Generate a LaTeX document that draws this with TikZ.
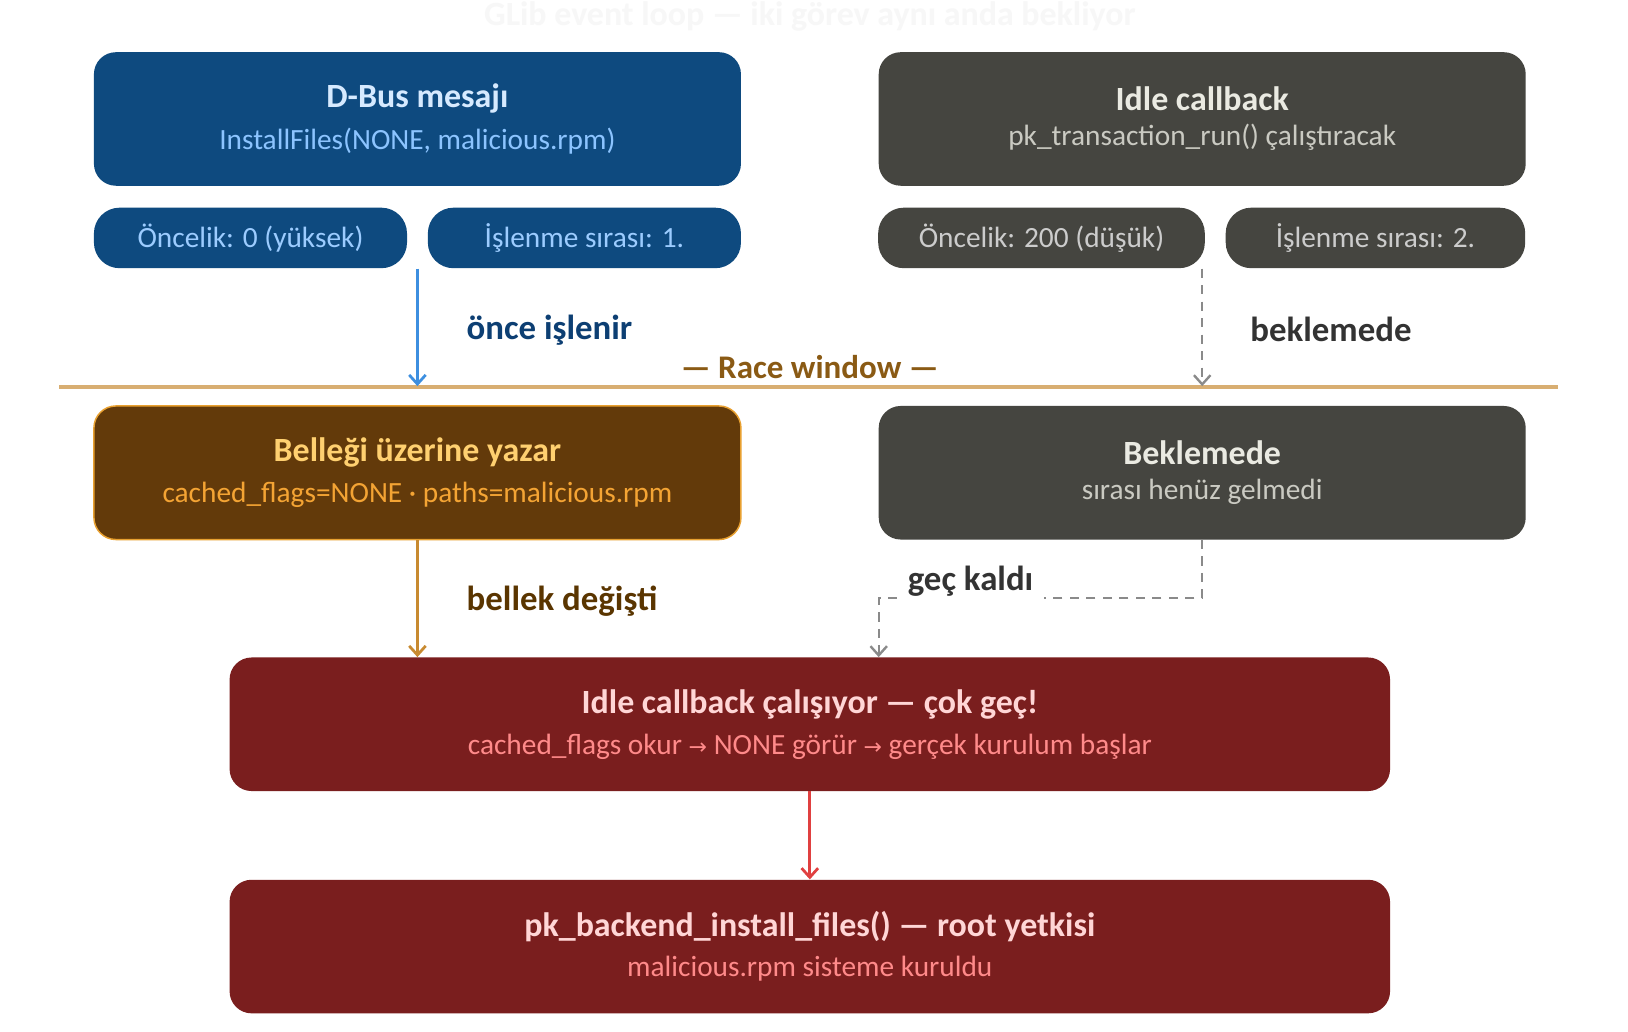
\documentclass[tikz,border=0pt]{standalone}
\usepackage{fontspec}
\setmainfont{Carlito}
\newfontfamily\symfont{DejaVu Sans}
\usepackage{xcolor}
\usetikzlibrary{arrows.meta}
\definecolor{dbusblue}{HTML}{0E4A7F}
\definecolor{idlegray}{HTML}{454540}
\definecolor{membrown}{HTML}{633A0A}
\definecolor{rootred}{HTML}{7A1E1E}
\definecolor{racetan}{HTML}{D8AE72}
\definecolor{racetext}{HTML}{8A5A14}
\definecolor{pilltext}{HTML}{9CCCFF}
\definecolor{grayline}{HTML}{8A8A8A}
\definecolor{bluearrow}{HTML}{3D8FE0}
\definecolor{bluelbl}{HTML}{0D3F73}
\definecolor{orangearrow}{HTML}{C88A30}
\definecolor{brownlbl}{HTML}{5A3500}
\definecolor{memedge}{HTML}{E8A030}
\definecolor{redarrow}{HTML}{E04040}
\newcommand{\rarr}{{\symfont\fontsize{12}{14}\selectfont →}}

\begin{document}
\begin{tikzpicture}[x=0.02cm,y=-0.02cm]
\tikzstyle{box} = [rounded corners=12pt,minimum height=128*0.02cm,align=center,inner sep=0pt];
\tikzstyle{pill} = [rounded corners=14pt,minimum height=58*0.02cm,inner sep=0pt,font=\fontsize{16}{19}\selectfont];
\tikzstyle{lbl} = [font=\fontsize{19}{22}\selectfont\bfseries,anchor=west];
\tikzstyle{arr} = [line width=1.5pt,-{Straight Barb[length=5pt,width=9pt]}];
\tikzstyle{darr} = [line width=1.3pt,dash pattern=on 5pt off 4pt,draw=grayline,-{Straight Barb[length=5pt,width=9pt]}];
\useasboundingbox[fill=white] (0,0) rectangle (1560,988);
\node[text=black!3,font=\fontsize{18.5}{22}\selectfont\bfseries] (title) at (776,16) {GLib event loop — iki görev aynı anda bekliyor};

% top row
\node[box,fill=dbusblue,minimum width=620*0.02cm] (dbus) at (400,114)
  {\textcolor[HTML]{D6EAFF}{\fontsize{18.5}{22}\selectfont\bfseries D-Bus mesajı}\\[7pt]\textcolor[HTML]{8CC4FF}{\fontsize{16}{19}\selectfont InstallFiles(NONE, malicious.rpm)}};
\node[box,fill=idlegray,minimum width=620*0.02cm] (idle) at (1152,114)
  {\textcolor[HTML]{EAEAE2}{\fontsize{18.5}{22}\selectfont\bfseries Idle callback}\\[7pt]\textcolor[HTML]{CACAC2}{\fontsize{16}{19}\selectfont pk\_transaction\_run() çalıştıracak}};
\node[pill,fill=dbusblue,minimum width=300*0.02cm,text=pilltext] (prio1) at (240,228) {Öncelik: 0 (yüksek)};
\node[pill,fill=dbusblue,minimum width=300*0.02cm,text=pilltext] (ord1) at (560,228) {İşlenme sırası: 1.};
\node[pill,fill=idlegray,minimum width=313*0.02cm,text=black!20] (prio2) at (998,228) {Öncelik: 200 (düşük)};
\node[pill,fill=idlegray,minimum width=287*0.02cm,text=black!20] (ord2) at (1318,228) {İşlenme sırası: 2.};

% race window
\coordinate (rl) at (57,371);
\coordinate (rr) at (1493,371);
\draw[racetan,line width=2pt] (rl) -- (rr);
\node[text=racetext,font=\fontsize{18}{21}\selectfont\bfseries] (race) at (776,352) {— Race window —};
\coordinate (a1) at (400,370);
\coordinate (a2) at (1152,370);
\draw[arr,draw=bluearrow] (prio1.south -| a1) -- (a1);
\draw[darr] (prio2.south -| a2) -- (a2);
\node[lbl,text=bluelbl] (l1) at (441,316) {önce işlenir};
\node[lbl,text=black!80] (l2) at (1192,316) {beklemede};

% middle row
\node[box,fill=membrown,draw=memedge,line width=0.8pt,minimum width=620*0.02cm] (mem) at (400,453)
  {\textcolor[HTML]{FFD070}{\fontsize{18.5}{22}\selectfont\bfseries Belleği üzerine yazar}\\[7pt]\textcolor[HTML]{F4A434}{\fontsize{16}{19}\selectfont cached\_flags=NONE · paths=malicious.rpm}};
\node[box,fill=idlegray,minimum width=620*0.02cm] (wait) at (1152,453)
  {\textcolor[HTML]{EAEAE2}{\fontsize{18.5}{22}\selectfont\bfseries Beklemede}\\[7pt]\textcolor[HTML]{CACAC2}{\fontsize{16}{19}\selectfont sırası henüz gelmedi}};

% bottom rows
\node[box,fill=rootred,minimum width=1112*0.02cm] (run) at (776,694)
  {\textcolor[HTML]{FFD6D6}{\fontsize{18.5}{22}\selectfont\bfseries Idle callback çalışıyor — çok geç!}\\[7pt]\textcolor[HTML]{FF8A8A}{\fontsize{16}{19}\selectfont cached\_flags okur \rarr{} NONE görür \rarr{} gerçek kurulum başlar}};
\node[box,fill=rootred,minimum width=1112*0.02cm] (root) at (776,907)
  {\textcolor[HTML]{FFD6D6}{\fontsize{18.5}{22}\selectfont\bfseries pk\_backend\_install\_files() — root yetkisi}\\[7pt]\textcolor[HTML]{FF8A8A}{\fontsize{16}{19}\selectfont malicious.rpm sisteme kuruldu}};

\draw[arr,draw=orangearrow] (mem.south) -- (mem.south |- run.north);
\node[lbl,text=brownlbl] (l3) at (441,576) {bellek değişti};
\coordinate (c1) at (1152,573);
\coordinate (c2) at (842,573);
\draw[darr] (wait.south) -- (c1) -- (c2) -- (c2 |- run.north);
\node[fill=white,text=black!80,font=\fontsize{19}{22}\selectfont\bfseries,inner xsep=6pt] (l4) at (930,557) {geç kaldı};
\draw[arr,draw=redarrow] (run.south) -- (root.north);
\end{tikzpicture}
\end{document}
